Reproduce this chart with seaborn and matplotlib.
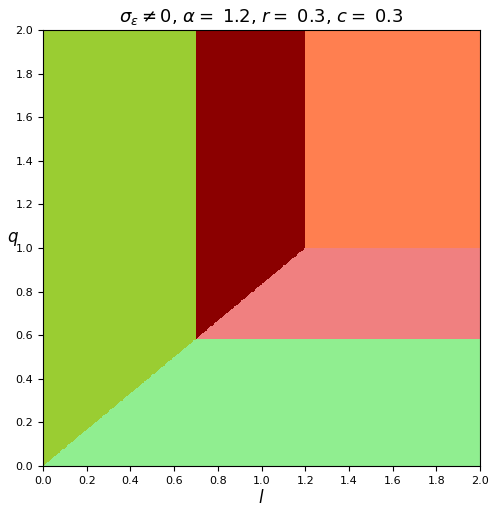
import numpy as np
import matplotlib.pyplot as plt
import seaborn as sns
from matplotlib.colors import ListedColormap

# model parameters shown in the title
alpha, r, c = 1.2, 0.3, 0.3

# region boundaries
l_breaks = [0.7, 1.2]     # vertical edges (1 - r, alpha)
q_breaks = [0.583, 1.0]   # horizontal edges
l_max, q_max = 2.0, 2.0

region_colors = ['lightgreen', 'lightcoral', 'yellowgreen', 'darkred', 'coral']
tick_values = [0.0, 0.2, 0.4, 0.6, 0.8, 1.0, 1.2, 1.4, 1.6, 1.8, 2.0]
tick_labels = ['0.0', '0.2', '0.4', '0.6', '0.8', '1.0', '1.2', '1.4', '1.6', '1.8', '2.0']

n = 500
l = (np.arange(n) + 0.5) / n * l_max
q = (np.arange(n) + 0.5) / n * q_max
L, Q = np.meshgrid(l, q)

above = Q >= L / alpha
region = np.zeros(L.shape, dtype=int)
region[(~above) & (Q >= q_breaks[0])] = 1
region[above & (L < l_breaks[0])] = 2
region[above & (L >= l_breaks[0]) & (L < l_breaks[1])] = 3
region[(L >= l_breaks[1]) & (Q >= q_breaks[1])] = 4

fig = plt.figure(figsize=(4.98, 5.13), dpi=100)
ax = fig.add_axes([0.0863, 0.0916, 0.878, 0.850])

sns.heatmap(region, cmap=ListedColormap(region_colors), vmin=-0.5, vmax=4.5,
            cbar=False, xticklabels=False, yticklabels=False, ax=ax)
ax.invert_yaxis()

pos = np.array(tick_values)
ax.set_xticks(pos / l_max * n)
ax.set_xticklabels(tick_labels, fontsize=8)
ax.set_yticks(pos / q_max * n)
ax.set_yticklabels(tick_labels, fontsize=8, rotation=0)
ax.tick_params(length=3.5, width=0.8)
for s in ax.spines.values():
    s.set_visible(True)
    s.set_linewidth(0.8)

ax.set_xlabel('$l$', fontsize=12, labelpad=2)
ax.set_ylabel('$q$', fontsize=12, rotation=0, labelpad=2)
ax.set_title(r'$\sigma_\epsilon \neq 0$, $\alpha = $ ' + str(alpha) + ', $r = $ ' + str(r)
             + ', $c = $ ' + str(c), fontsize=13)

fig.savefig('out.png', dpi=100)
